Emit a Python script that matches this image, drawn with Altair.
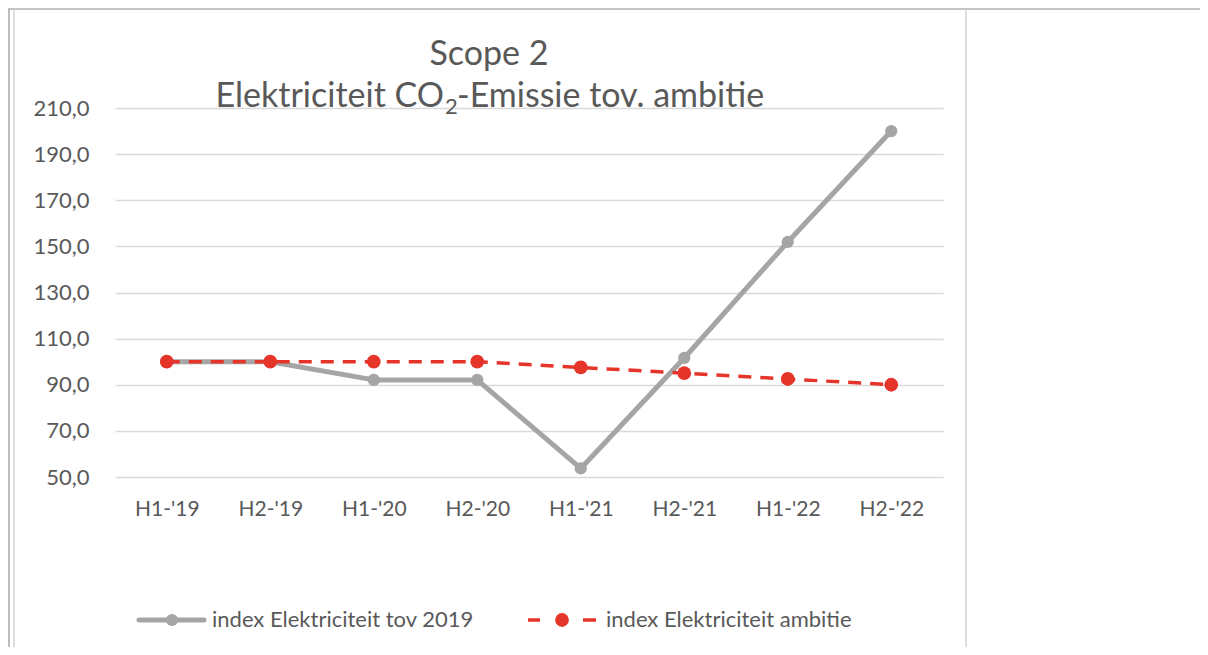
import altair as alt
import pandas as pd

periods = ["H1-'19", "H2-'19", "H1-'20", "H2-'20", "H1-'21", "H2-'21", "H1-'22", "H2-'22"]
index_2019 = [100.0, 100.0, 92.1, 92.1, 53.7, 101.6, 151.9, 200.0]
ambitie = [100.0, 100.0, 100.0, 100.0, 97.5, 95.0, 92.5, 90.0]
series_names = ["index Elektriciteit tov 2019", "index Elektriciteit ambitie"]
y_ticks = [50, 70, 90, 110, 130, 150, 170, 190, 210]
title_line1 = "Scope 2"
title_line2a = "Elektriciteit CO"
title_line2b = "2"
title_line2c = "-Emissie tov. ambitie"

GRAY = "#A5A5A5"
RED = "#E5352A"
TXT = "#595959"
FONT = "Lato"

df = pd.DataFrame({
    "period": periods * 2,
    "value": index_2019 + ambitie,
    "series": [series_names[0]] * len(periods) + [series_names[1]] * len(periods),
})

W, H = 828, 369

xenc = alt.X("period:O", sort=periods,
             scale=alt.Scale(type="point", padding=0.5),
             axis=alt.Axis(title=None, labelAngle=0, domain=False, ticks=False,
                           labelFont=FONT, labelFontSize=21, labelColor=TXT,
                           labelPadding=21))
yenc = alt.Y("value:Q", scale=alt.Scale(domain=[50, 210], nice=False, zero=False),
             axis=alt.Axis(title=None, values=y_ticks, domain=False, ticks=False,
                           grid=True, gridColor="#D9D9D9", gridWidth=1.3,
                           labelFont=FONT, labelFontSize=22, labelColor=TXT,
                           labelPadding=26,
                           labelExpr="replace(format(datum.value, '.1f'), '.', ',')"))

gray_df = df[df.series == series_names[0]]
red_df = df[df.series == series_names[1]]

gray_line = alt.Chart(gray_df).mark_line(color=GRAY, strokeWidth=5, strokeCap="round",
                                         strokeJoin="round").encode(x=xenc, y=yenc)
gray_pts = alt.Chart(gray_df).mark_circle(color=GRAY, opacity=1, size=150).encode(x=xenc, y=yenc)
red_line = alt.Chart(red_df).mark_line(color=RED, strokeWidth=3.5,
                                       strokeDash=[13, 9]).encode(x=xenc, y=yenc)
red_pts = alt.Chart(red_df).mark_circle(color=RED, opacity=1, size=190).encode(x=xenc, y=yenc)

one = pd.DataFrame({"a": [0]})

t1 = alt.Chart(one).mark_text(text=title_line1, font=FONT, fontSize=34, color=TXT,
                              align="center", baseline="alphabetic").encode(
    x=alt.value(374), y=alt.value(-43))
t2a = alt.Chart(one).mark_text(text=title_line2a, font=FONT, fontSize=34, color=TXT,
                               align="right", baseline="alphabetic").encode(
    x=alt.value(329), y=alt.value(-1))
t2b = alt.Chart(one).mark_text(text=title_line2b, font=FONT, fontSize=22, color=TXT,
                               align="left", baseline="alphabetic").encode(
    x=alt.value(330), y=alt.value(6))
t2c = alt.Chart(one).mark_text(text=title_line2c, font=FONT, fontSize=34, color=TXT,
                               align="left", baseline="alphabetic").encode(
    x=alt.value(342), y=alt.value(-1))

LY = 512
leg_gray_line = alt.Chart(one).mark_rule(color=GRAY, strokeWidth=5, strokeCap="round").encode(
    x=alt.value(24), x2=alt.value(89), y=alt.value(LY))
leg_gray_pt = alt.Chart(one).mark_circle(color=GRAY, opacity=1, size=150).encode(
    x=alt.value(57), y=alt.value(LY))
leg_gray_txt = alt.Chart(one).mark_text(text=series_names[0], font=FONT, fontSize=22,
                                        color=TXT, align="left", baseline="middle").encode(
    x=alt.value(97), y=alt.value(LY))
leg_red_d1 = alt.Chart(one).mark_rule(color=RED, strokeWidth=3.5).encode(
    x=alt.value(413), x2=alt.value(425), y=alt.value(LY))
leg_red_d2 = alt.Chart(one).mark_rule(color=RED, strokeWidth=3.5).encode(
    x=alt.value(468), x2=alt.value(481), y=alt.value(LY))
leg_red_pt = alt.Chart(one).mark_circle(color=RED, opacity=1, size=190).encode(
    x=alt.value(447), y=alt.value(LY))
leg_red_txt = alt.Chart(one).mark_text(text=series_names[1], font=FONT, fontSize=22,
                                       color=TXT, align="left", baseline="middle").encode(
    x=alt.value(491), y=alt.value(LY))

# document frame lines
fr_top = alt.Chart(one).mark_rule(color="#C4C4C4", strokeWidth=2).encode(
    x=alt.value(-107), x2=alt.value(1085), y=alt.value(-99))
fr_left_outer = alt.Chart(one).mark_rule(color="#BDBDBD", strokeWidth=2).encode(
    x=alt.value(-106), y=alt.value(-100), y2=alt.value(539))
fr_left_inner = alt.Chart(one).mark_rule(color="#DEDEDE", strokeWidth=2).encode(
    x=alt.value(-101), y=alt.value(-98), y2=alt.value(539))
fr_right = alt.Chart(one).mark_rule(color="#DEDEDE", strokeWidth=2).encode(
    x=alt.value(851), y=alt.value(-98), y2=alt.value(539))

chart = alt.layer(
    gray_line, gray_pts, red_line, red_pts,
    t1, t2a, t2b, t2c,
    leg_gray_line, leg_gray_pt, leg_gray_txt,
    leg_red_d1, leg_red_d2, leg_red_pt, leg_red_txt,
    fr_top, fr_left_outer, fr_left_inner, fr_right,
).properties(
    width=W, height=H,
    autosize=alt.AutoSizeParams(type="none"),
    padding={"left": 107, "top": 100, "right": 257, "bottom": 170},
).configure_view(stroke=None)

chart.save("out.html", embed_options={"renderer": "svg", "actions": False})
